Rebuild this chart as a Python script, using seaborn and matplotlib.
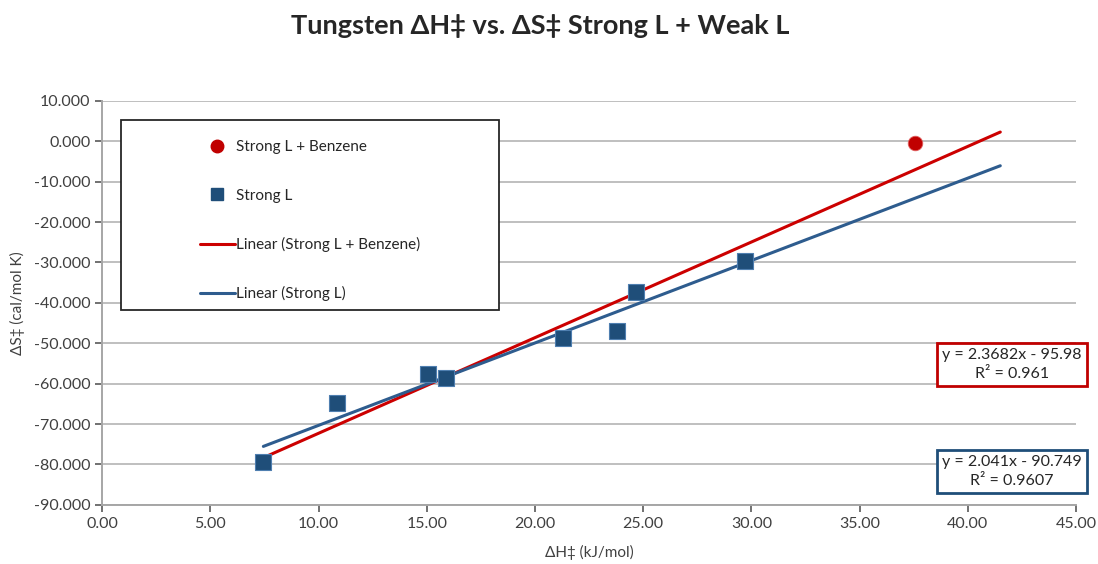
import matplotlib
matplotlib.use('Agg')
import matplotlib.pyplot as plt
import matplotlib.ticker as mticker
from matplotlib.patches import Rectangle
from matplotlib.lines import Line2D
import seaborn as sns
import numpy as np
import pandas as pd

# Dados
dh_strong = [7.45, 10.86, 15.06, 15.90, 21.30, 23.80, 24.68, 29.70]
ds_strong = [-79.3, -64.9, -57.6, -58.7, -48.6, -46.9, -37.3, -29.7]
dh_benz = [37.57]
ds_benz = [-0.3]

# linhas de tendência (coeficientes da planilha)
slope_red, icpt_red = 2.3682, -95.98
slope_blue, icpt_blue = 2.041, -90.749
trend_x = [7.45, 41.5]
eq_red = 'y = 2.3682x - 95.98\nR² = 0.961'
eq_blue = 'y = 2.041x - 90.749\nR² = 0.9607'

red = '#C00000'
blue = '#1F4E79'
line_blue = '#2E5C8E'

sns.set_style('white')
plt.rcParams['font.family'] = ['Lato', 'DejaVu Sans']

fig = plt.figure(figsize=(10.98, 5.64), dpi=100)
ax = fig.add_axes([0.093, 0.105, 0.887, 0.716])

ax.yaxis.grid(True, color='#BFBFBF', linewidth=1.4)
ax.set_axisbelow(True)

tx = np.array(trend_x)
df_lines = pd.DataFrame({
    'x': np.concatenate([tx, tx]),
    'y': np.concatenate([slope_red * tx + icpt_red, slope_blue * tx + icpt_blue]),
    'serie': ['Linear (Strong L + Benzene)'] * 2 + ['Linear (Strong L)'] * 2,
})
sns.lineplot(data=df_lines, x='x', y='y', hue='serie',
             palette={'Linear (Strong L + Benzene)': '#CC0000', 'Linear (Strong L)': line_blue},
             linewidth=2.2, ax=ax, legend=False, zorder=3)

sns.scatterplot(x=dh_benz, y=ds_benz, marker='o', s=110, color=red,
                edgecolor='#E06060', linewidth=0.6, ax=ax, zorder=4)
sns.scatterplot(x=dh_strong, y=ds_strong, marker='s', s=120, color=blue,
                edgecolor='#4F7FB0', linewidth=0.8, ax=ax, zorder=4)

ax.set_xlim(0, 45)
ax.set_ylim(-90, 10)
ax.xaxis.set_major_locator(mticker.MultipleLocator(5))
ax.yaxis.set_major_locator(mticker.MultipleLocator(10))
ax.xaxis.set_major_formatter(mticker.FormatStrFormatter('%.2f'))
ax.yaxis.set_major_formatter(mticker.FormatStrFormatter('%.3f'))
ax.tick_params(axis='both', labelsize=11.5, colors='#595959', labelcolor='#404040',
               length=5, width=1.2, direction='out', left=True, bottom=True)

for s in ['top', 'right']:
    ax.spines[s].set_visible(False)
for s in ['left', 'bottom']:
    ax.spines[s].set_color('#A6A6A6')
    ax.spines[s].set_linewidth(1.4)

ax.set_xlabel('ΔH‡ (kJ/mol)', fontsize=11, color='#404040', labelpad=10)
ax.set_ylabel('ΔS‡ (cal/mol K)', fontsize=11, color='#404040', labelpad=6)
fig.suptitle('Tungsten ΔH‡ vs. ΔS‡ Strong L + Weak L', fontsize=19.5,
             fontweight='bold', x=0.492, y=0.975)

# legenda
ax.add_patch(Rectangle((0.0195, 0.483), 0.388, 0.47, transform=ax.transAxes,
                       facecolor='white', edgecolor='#262626', linewidth=1.3,
                       zorder=5, clip_on=False))
handles = [
    Line2D([], [], marker='o', linestyle='', color=red, markersize=9),
    Line2D([], [], marker='s', linestyle='', color=blue, markersize=8),
    Line2D([], [], color='#CC0000', linewidth=2.2),
    Line2D([], [], color=line_blue, linewidth=2.2),
]
labels = ['Strong L + Benzene', 'Strong L', 'Linear (Strong L + Benzene)', 'Linear (Strong L)']
leg = ax.legend(handles, labels, loc='upper left', bbox_to_anchor=(0.094, 0.918),
                frameon=False, fontsize=11, labelspacing=2.25, handlelength=2.3,
                handletextpad=0.1, borderaxespad=0)
leg.set_zorder(6)
for t in leg.get_texts():
    t.set_color('#262626')

ax.text(0.934, 0.347, eq_red, transform=ax.transAxes, ha='center', va='center',
        fontsize=11.5, color='#262626', linespacing=1.45, zorder=6,
        bbox=dict(boxstyle='square,pad=0.32', facecolor='white', edgecolor=red, linewidth=2))
ax.text(0.934, 0.083, eq_blue, transform=ax.transAxes, ha='center', va='center',
        fontsize=11.5, color='#262626', linespacing=1.45, zorder=6,
        bbox=dict(boxstyle='square,pad=0.32', facecolor='white', edgecolor=blue, linewidth=2))

fig.savefig('out.png', dpi=100)
